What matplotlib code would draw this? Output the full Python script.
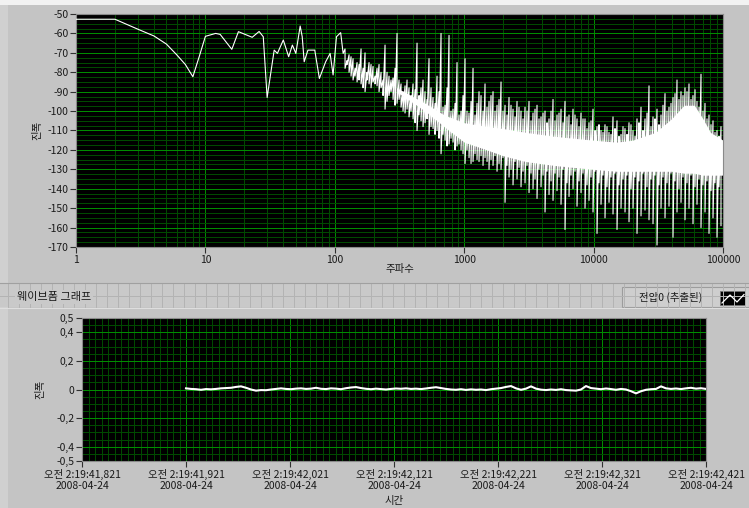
import numpy as np
import matplotlib
matplotlib.use('Agg')
import matplotlib.pyplot as plt
from matplotlib.patches import Rectangle
from matplotlib.ticker import FixedLocator, MultipleLocator, LogLocator, NullFormatter

plt.rcParams['font.family'] = ['Noto Sans CJK KR', 'DejaVu Sans']

# --- spectrum: low frequency bins (Hz, dB) ---
low_freq = [1, 2, 3, 4, 5, 6, 7, 8, 9, 10, 12, 13, 16, 18, 23, 26, 28, 30,
            34, 36, 40, 44, 47, 50, 54, 56, 58, 62, 70, 76, 85, 92, 97, 103,
            111, 116, 120]
low_db = [-52.7, -52.7, -57.8, -61.3, -65.5, -71.0, -76.0, -82.3, -71.5, -61.5,
          -60.0, -60.5, -68.2, -59.1, -62.0, -59.0, -61.7, -93.0, -68.6, -70.3,
          -63.4, -72.0, -66.0, -70.3, -56.2, -61.7, -74.6, -68.6, -68.6, -83.2,
          -74.6, -70.3, -81.4, -61.7, -59.6, -70.3, -68.0]

# --- spectrum above 120 Hz, read column by column on a log-frequency grid ---
# tip columns: tallest / deepest excursion of the trace
tip_hi = [-68, -71, -73, -75, -68, -70, -75, -77, -78, -80,
          -66, -82, -83, -60, -86, -87, -88, -86, -65, -88,
          -90, -73, -93, -82, -60, -97, -61, -99, -75, -100,
          -73, -101, -78, -96, -92, -86, -95, -90, -97, -85,
          -97, -93, -99, -95, -100, -98, -95, -101, -97, -103,
          -100, -104, -94, -102, -99, -95, -102, -99, -104, -101,
          -104, -106, -99, -108, -110, -107, -111, -103, -105, -112,
          -109, -106, -110, -104, -98, -104, -87, -103, -99, -102,
          -91, -98, -93, -84, -90, -88, -86, -92, -95, -81,
          -96, -102, -105, -110, -108]
tip_lo = [-78, -80, -84, -85, -86, -90, -86, -85, -87, -88,
          -99, -92, -94, -96, -98, -101, -103, -104, -110, -105,
          -106, -112, -109, -110, -122, -115, -117, -116, -118, -120,
          -127, -124, -126, -125, -123, -124, -130, -128, -131, -130,
          -147, -134, -138, -135, -139, -137, -142, -140, -145, -139,
          -152, -143, -146, -141, -148, -161, -144, -140, -149, -142,
          -150, -146, -152, -163, -148, -155, -147, -153, -161, -150,
          -152, -157, -150, -163, -154, -151, -156, -158, -169, -150,
          -155, -149, -165, -152, -147, -156, -150, -158, -148, -160,
          -152, -163, -155, -165, -159]
# columns lying between the tip columns
mid_hi = [-74, -72, -78, -76, -78, -80, -76, -82, -76, -84,
          -80, -84, -78, -84, -90, -84, -92, -89, -92, -84,
          -94, -88, -96, -90, -98, -88, -100, -96, -102, -92,
          -100, -95, -102, -90, -100, -98, -92, -100, -94, -100,
          -102, -97, -103, -98, -104, -100, -105, -99, -104, -101,
          -106, -100, -105, -101, -106, -103, -107, -102, -108, -104,
          -109, -105, -110, -107, -111, -108, -112, -109, -113, -108,
          -112, -107, -113, -106, -110, -101, -108, -104, -107, -97,
          -100, -96, -91, -94, -92, -90, -94, -89, -98, -100,
          -104, -107, -111, -113]
mid_lo = [-76, -82, -82, -84, -88, -84, -88, -86, -90, -92,
          -95, -90, -97, -94, -100, -99, -100, -106, -102, -108,
          -104, -108, -112, -114, -112, -118, -114, -120, -117, -122,
          -120, -127, -122, -126, -128, -126, -125, -123, -127, -124,
          -128, -130, -126, -129, -131, -128, -132, -135, -130, -133,
          -131, -136, -132, -134, -130, -137, -133, -131, -136, -132,
          -138, -134, -131, -137, -133, -139, -134, -132, -138, -135,
          -133, -140, -134, -136, -132, -139, -135, -133, -138, -134,
          -137, -132, -136, -140, -134, -137, -133, -139, -135, -138,
          -136, -141, -137, -139]
band_freq = np.geomspace(120, 96500, 2 * len(tip_hi) - 1)

# solid centre of the noise band
core_freq = [300, 500, 700, 1000, 1500, 2000, 3000, 5000, 7000, 10000,
             15000, 20000, 30000, 40000, 50000, 60000, 70000, 80000, 100000]
core_top = [-88, -96, -102, -106, -108, -109, -111, -113, -114, -115,
            -116, -115, -111, -104, -97, -97, -104, -111, -115]
core_bot = [-90, -100, -108, -116, -120, -123, -126, -128, -129, -130,
            -131, -131, -131, -131, -132, -132, -133, -133, -133]

# --- waveform (s after 2:19:41.821, V) ---
wave_t = np.linspace(0.1, 0.6, 105)
wave_v = [0.008, 0.004, 0.002, -0.002, 0.003, 0.001, 0.004, 0.008, 0.010, 0.012,
          0.018, 0.022, 0.012, 0.000, -0.008, -0.004, -0.005, 0.000, 0.004, 0.008,
          0.004, 0.002, 0.006, 0.008, 0.004, 0.006, 0.012, 0.005, 0.003, 0.008,
          0.006, 0.002, 0.009, 0.014, 0.017, 0.010, 0.005, 0.002, 0.006, 0.003,
          0.000, 0.004, 0.007, 0.005, 0.008, 0.004, 0.006, 0.003, 0.007, 0.012,
          0.016, 0.010, 0.004, 0.000, -0.002, 0.002, -0.003, 0.001, -0.002, 0.000,
          -0.004, 0.002, 0.006, 0.010, 0.018, 0.024, 0.008, -0.002, 0.006, 0.022,
          0.006, -0.001, -0.004, 0.000, -0.003, 0.002, -0.004, -0.006, -0.008, 0.000,
          0.024, 0.010, 0.006, 0.002, 0.007, 0.003, -0.002, 0.004, 0.000, -0.012,
          -0.027, -0.012, -0.002, 0.002, 0.004, 0.022, 0.008, 0.004, 0.007, 0.003,
          0.008, 0.012, 0.006, 0.009, 0.004]
time_ticks = [0.0, 0.1, 0.2, 0.3, 0.4, 0.5, 0.6]
time_labels = ['오전 2:19:41,821\n2008-04-24', '오전 2:19:41,921\n2008-04-24',
               '오전 2:19:42,021\n2008-04-24', '오전 2:19:42,121\n2008-04-24',
               '오전 2:19:42,221\n2008-04-24', '오전 2:19:42,321\n2008-04-24',
               '오전 2:19:42,421\n2008-04-24']
volt_ticks = [-0.5, -0.4, -0.2, 0.0, 0.2, 0.4, 0.5]
volt_labels = ['-0,5', '-0,4', '-0,2', '0', '0,2', '0,4', '0,5']
db_ticks = list(range(-170, -40, 10))
db_labels = ['%d' % v for v in db_ticks]
freq_ticks = [1, 10, 100, 1000, 10000, 100000]
freq_labels = ['1', '10', '100', '1000', '10000', '100000']

W, H = 749, 508
PANEL = '#c4c4c4'
MAJ = '#008c00'
MIN = '#004a00'
TXT = '#1a1a1a'
FS = 7.5

fig = plt.figure(figsize=(W / 100, H / 100), dpi=100, facecolor=PANEL)

# front-panel decoration in pixel coordinates
deco = fig.add_axes([0, 0, 1, 1], zorder=-1)
deco.set_xlim(0, W)
deco.set_ylim(H, 0)
deco.axis('off')
deco.add_patch(Rectangle((0, 0), W, 5, color='#f2f2f2', lw=0))
deco.add_patch(Rectangle((0, 5), 8, H, color='#d0d0d0', lw=0))
# separator bar with cell texture
deco.add_patch(Rectangle((0, 283), W, 24, color='#c9c9c9', lw=0))
for x in range(8, W, 11):
    deco.plot([x, x], [284, 307], color='#b3b3b3', lw=0.7)
deco.plot([0, W], [295.5, 295.5], color='#b3b3b3', lw=0.7)
deco.plot([0, W], [283, 283], color='#a0a0a0', lw=0.8)
deco.plot([0, W], [307.5, 307.5], color='#dedede', lw=0.8)
deco.text(17, 297, '웨이브폼 그래프', fontsize=8, color=TXT, va='center', ha='left',
          bbox=dict(facecolor='#c9c9c9', edgecolor='none', pad=1.2))
# legend plate
deco.add_patch(Rectangle((622, 287), 127, 20, facecolor='#cecece', edgecolor='#9c9c9c', lw=0.8))
deco.text(671, 297, '전압0 (추출된)', fontsize=FS, color=TXT, va='center', ha='center')
deco.add_patch(Rectangle((720, 291), 25, 14, facecolor='black', edgecolor='#707070', lw=0.6))
deco.plot([722, 730, 737, 744], [303, 295, 302, 294.5], color='white', lw=0.9)


def style(ax):
    ax.set_facecolor('black')
    ax.set_axisbelow(True)
    for s in ax.spines.values():
        s.set_color('#8a8a8a')
        s.set_linewidth(0.8)
    ax.tick_params(which='major', direction='out', length=4, width=0.8, color='#303030',
                   labelsize=FS, labelcolor=TXT, pad=1.5)
    ax.tick_params(which='minor', length=0)
    ax.grid(which='minor', color=MIN, lw=0.72)
    ax.grid(which='major', color=MAJ, lw=0.72)


# --- spectrum panel ---
ax1 = fig.add_axes([76 / W, 1 - 247 / H, 647 / W, 233 / H])
ax1.set_xscale('log')
ax1.set_xlim(1, 100000)
ax1.set_ylim(-170, -50)
ax1.xaxis.set_major_locator(FixedLocator(freq_ticks))
ax1.xaxis.set_minor_locator(LogLocator(base=10, subs=range(2, 10), numticks=20))
ax1.xaxis.set_minor_formatter(NullFormatter())
ax1.set_xticklabels(freq_labels)
ax1.yaxis.set_major_locator(FixedLocator(db_ticks))
ax1.yaxis.set_minor_locator(MultipleLocator(2.5))
ax1.set_yticklabels(db_labels)
style(ax1)

# interleave tip and mid columns, each drawn as a stroke from top to bottom
band_hi = np.empty(len(band_freq))
band_lo = np.empty(len(band_freq))
band_hi[0::2], band_hi[1::2] = tip_hi, mid_hi
band_lo[0::2], band_lo[1::2] = tip_lo, mid_lo

ax1.fill_between(core_freq, core_bot, core_top, color='white', lw=0, zorder=2)
trace_f = np.concatenate([low_freq, np.repeat(band_freq, 2)])
trace_db = np.concatenate([low_db, np.column_stack([band_hi, band_lo]).ravel()])
ax1.plot(trace_f, trace_db, color='white', lw=0.8, zorder=3)

ax1.set_xlabel('주파수', fontsize=FS, color=TXT, va='center')
ax1.xaxis.set_label_coords(0.5, -0.095)
ax1.set_ylabel('진폭', fontsize=FS, color=TXT, va='center')
ax1.yaxis.set_label_coords(-0.060, 0.50)

# --- waveform panel ---
ax2 = fig.add_axes([82 / W, 1 - 461 / H, 624 / W, 143 / H])
ax2.set_xlim(0, 0.6)
ax2.set_ylim(-0.5, 0.5)
ax2.xaxis.set_major_locator(FixedLocator(time_ticks))
ax2.xaxis.set_minor_locator(MultipleLocator(0.00625))
ax2.set_xticklabels(time_labels, linespacing=1.15)
ax2.yaxis.set_major_locator(FixedLocator(volt_ticks))
ax2.yaxis.set_minor_locator(MultipleLocator(0.05))
ax2.set_yticklabels(volt_labels)
style(ax2)

ax2.plot(wave_t, wave_v, color='white', lw=1.5, zorder=3)

ax2.set_xlabel('시간', fontsize=FS, color=TXT, va='center')
ax2.xaxis.set_label_coords(0.5, -0.28)
ax2.set_ylabel('진폭', fontsize=FS, color=TXT, va='center')
ax2.yaxis.set_label_coords(-0.067, 0.50)

fig.savefig('out.png', dpi=100, facecolor=PANEL)
